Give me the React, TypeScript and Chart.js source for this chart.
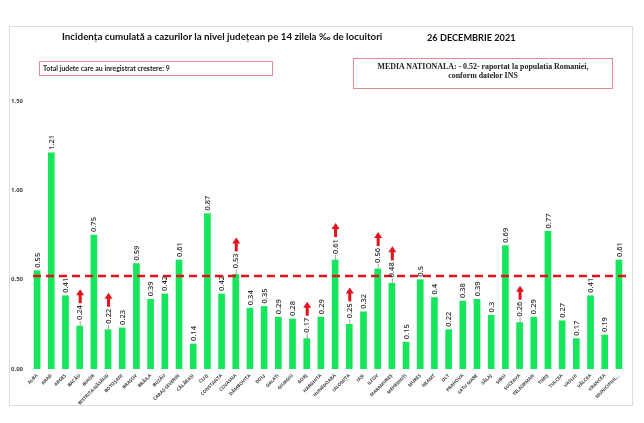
import React, { useEffect, useRef } from "react";
import { Chart, registerables } from "chart.js";

Chart.register(...registerables);

const categories = [
  "ALBA", "ARAD", "ARGEȘ", "BACĂU", "BIHOR", "BISTRIȚA-NĂSĂUD", "BOTOȘANI", "BRAȘOV",
  "BRĂILA", "BUZĂU", "CARAȘ-SEVERIN", "CĂLĂRAȘI", "CLUJ", "CONSTANȚA", "COVASNA",
  "DÂMBOVIȚA", "DOLJ", "GALAȚI", "GIURGIU", "GORJ", "HARGHITA", "HUNEDOARA", "IALOMIȚA",
  "IAȘI", "ILFOV", "MARAMUREȘ", "MEHEDINȚI", "MUREȘ", "NEAMȚ", "OLT", "PRAHOVA",
  "SATU MARE", "SĂLAJ", "SIBIU", "SUCEAVA", "TELEORMAN", "TIMIȘ", "TULCEA", "VASLUI",
  "VÂLCEA", "VRANCEA", "MUNICIPIUL BUCUREȘTI",
];

const values = [
  0.55, 1.21, 0.41, 0.24, 0.75, 0.22, 0.23, 0.59,
  0.39, 0.42, 0.61, 0.14, 0.87, 0.42, 0.53,
  0.34, 0.35, 0.29, 0.28, 0.17, 0.29, 0.61, 0.25,
  0.32, 0.56, 0.48, 0.15, 0.5, 0.4, 0.22, 0.38,
  0.39, 0.3, 0.69, 0.26, 0.29, 0.77, 0.27, 0.17,
  0.41, 0.19, 0.61,
];

const growthCounties = [
  "BACĂU", "BISTRIȚA-NĂSĂUD", "COVASNA", "GORJ", "HUNEDOARA",
  "IALOMIȚA", "ILFOV", "MARAMUREȘ", "SUCEAVA",
];

const nationalAverage = 0.52;
const yTickValues = [0, 0.5, 1.0, 1.5];

const titleText = "Incidența cumulată a cazurilor la nivel județean pe 14 zilela ‰ de locuitori";
const dateText = "26 DECEMBRIE 2021";
const growthText = "Total judete care au inregistrat crestere: " + growthCounties.length;
const mediaLine1 = "MEDIA NATIONALA:  - " + nationalAverage.toFixed(2) + "-  raportat la populatia Romaniei,";
const mediaLine2 = "conform datelor INS";

const BAR_COLOR = "#16e65c";
const RED = "#e3121b";

const overlayPlugin = {
  id: "overlay",
  beforeDraw(chart: any) {
    const { ctx, width, height } = chart;
    ctx.save();
    ctx.fillStyle = "#ffffff";
    ctx.fillRect(0, 0, width, height);
    ctx.strokeStyle = "#dcdcdc";
    ctx.lineWidth = 1;
    ctx.strokeRect(9.5, 26.5, 623, 379);
    ctx.restore();
  },
  afterDatasetsDraw(chart: any) {
    const { ctx, chartArea } = chart;
    const meta = chart.getDatasetMeta(0);
    const yScale = chart.scales.y;
    ctx.save();
    const yAvg = yScale.getPixelForValue(nationalAverage);
    ctx.strokeStyle = RED;
    ctx.lineWidth = 2.5;
    ctx.setLineDash([8, 5]);
    ctx.beginPath();
    ctx.moveTo(chartArea.left + 3, yAvg);
    ctx.lineTo(chartArea.right + 4, yAvg);
    ctx.stroke();
    ctx.setLineDash([]);

    ctx.font = "600 7.5px 'Open Sans'";
    meta.data.forEach((bar: any, i: number) => {
      const label = String(values[i]);
      const grow = growthCounties.includes(categories[i]);
      const offset = grow ? 6 : 3;
      const x = bar.x;
      const top = bar.y;
      const tw = ctx.measureText(label).width;
      if (grow) {
        ctx.strokeStyle = "#a0a0a0";
        ctx.lineWidth = 1;
        ctx.beginPath();
        ctx.moveTo(x + 0.5, top);
        ctx.lineTo(x + 0.5, top - offset + 1);
        ctx.stroke();
      }
      ctx.save();
      ctx.translate(x + 0.5, top - offset);
      ctx.rotate(-Math.PI / 2);
      ctx.fillStyle = "#333333";
      ctx.textAlign = "left";
      ctx.textBaseline = "middle";
      ctx.fillText(label, 0, 0);
      ctx.restore();
      if (grow) {
        const yb = top - offset - tw - 2;
        ctx.fillStyle = RED;
        ctx.fillRect(x - 1, yb - 9, 3, 9);
        ctx.beginPath();
        ctx.moveTo(x - 3.5, yb - 8);
        ctx.lineTo(x + 4.5, yb - 8);
        ctx.lineTo(x + 0.5, yb - 14);
        ctx.closePath();
        ctx.fill();
      }
    });
    ctx.restore();
  },
};

export default function App() {
  const canvasRef = useRef<HTMLCanvasElement | null>(null);

  useEffect(() => {
    if (!canvasRef.current) return;
    const chart = new Chart(canvasRef.current, {
      type: "bar",
      data: {
        labels: categories,
        datasets: [
          {
            data: values,
            backgroundColor: BAR_COLOR,
            barThickness: 6,
          },
        ],
      },
      options: {
        animation: false,
        responsive: false,
        layout: { padding: { top: 101, right: 18, bottom: 14, left: 0 } },
        plugins: {
          legend: { display: false },
          tooltip: { enabled: false },
        },
        scales: {
          x: {
            grid: { display: false, drawTicks: false },
            border: { display: false },
            ticks: {
              autoSkip: false,
              maxRotation: 45,
              minRotation: 45,
              padding: 4,
              color: "#444444",
              font: { family: "'Open Sans'", size: 4.6, weight: "bold" },
              callback: (v: any, i: number) => {
                const s = categories[i];
                return s.length > 16 ? s.slice(0, 10) + "..." : s;
              },
            },
            afterFit: (scale: any) => {
              scale.height = 40;
            },
          },
          y: {
            min: 0,
            max: 1.5,
            afterBuildTicks: (scale: any) => {
              scale.ticks = yTickValues.map((v) => ({ value: v }));
            },
            grid: { display: false, drawTicks: false },
            border: { display: false },
            ticks: {
              padding: 7,
              color: "#444444",
              font: { family: "'Open Sans'", size: 6, weight: "bold" },
              callback: (v: any) => Number(v).toFixed(2),
            },
            afterFit: (scale: any) => {
              scale.width = 30;
            },
          },
        },
      },
      plugins: [overlayPlugin],
    });
    return () => chart.destroy();
  }, []);

  const boxBorder = "1px solid #e58a94";

  return (
    <div style={{ position: "absolute", left: 0, top: 0, width: 644, height: 423, background: "#fff" }}>
      <canvas ref={canvasRef} width={644} height={423} style={{ position: "absolute", left: 0, top: 0 }} />
      <div
        style={{
          position: "absolute", left: 62, top: 30, fontFamily: "Lato", fontWeight: 700,
          fontSize: 9.8, color: "#111", whiteSpace: "nowrap", lineHeight: "12px",
        }}
      >
        {titleText}
      </div>
      <div
        style={{
          position: "absolute", left: 427, top: 32, fontFamily: "Lato", fontWeight: 700,
          fontSize: 9.2, color: "#111", whiteSpace: "nowrap", lineHeight: "12px",
        }}
      >
        {dateText}
      </div>
      <div
        style={{
          position: "absolute", left: 39, top: 61, width: 234, height: 15, border: boxBorder,
          boxSizing: "border-box", fontFamily: "Lato", fontWeight: 700, fontSize: 6.9,
          color: "#222", lineHeight: "13px", paddingLeft: 3, whiteSpace: "nowrap",
        }}
      >
        {growthText}
      </div>
      <div
        style={{
          position: "absolute", left: 353, top: 58, width: 260, height: 31, border: boxBorder,
          boxSizing: "border-box", fontFamily: "'Liberation Serif'", fontWeight: 700, fontSize: 7.9,
          color: "#222", lineHeight: "9px", textAlign: "center", paddingTop: 3, whiteSpace: "nowrap",
        }}
      >
        <div>{mediaLine1}</div>
        <div>{mediaLine2}</div>
      </div>
    </div>
  );
}
